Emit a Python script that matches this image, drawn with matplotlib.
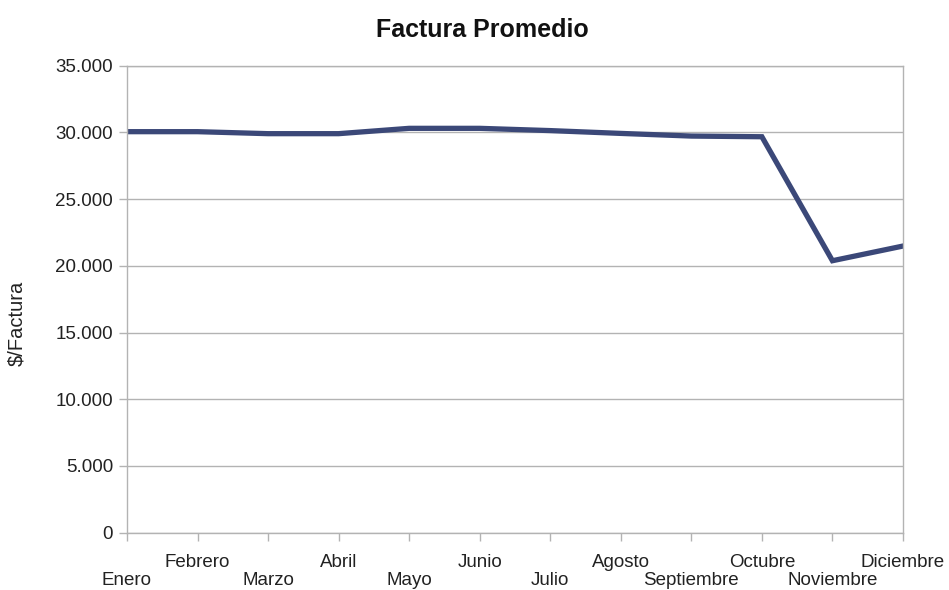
import matplotlib.pyplot as plt
from matplotlib.ticker import FuncFormatter

meses = ["Enero", "Febrero", "Marzo", "Abril", "Mayo", "Junio", "Julio",
         "Agosto", "Septiembre", "Octubre", "Noviembre", "Diciembre"]
factura = [30050, 30050, 29900, 29900, 30300, 30300, 30130,
           29920, 29720, 29670, 20380, 21480]
y_ticks = [0, 5000, 10000, 15000, 20000, 25000, 30000, 35000]

plt.rcParams["font.family"] = ["Liberation Sans", "DejaVu Sans"]
grey = "#b3b3b3"

fig = plt.figure(figsize=(9.49, 5.9), dpi=100)
ax = fig.add_axes([0.1338, 0.0971, 0.8177, 0.7917])

x = list(range(len(meses)))
ax.plot(x, factura, color="#3b4878", linewidth=3.8, solid_joinstyle="miter")

ax.set_xlim(0, len(meses) - 1)
ax.set_ylim(0, 35000)
ax.set_yticks(y_ticks)
ax.yaxis.set_major_formatter(FuncFormatter(lambda v, p: f"{int(v):,}".replace(",", ".")))

ax.set_xticks(x)
ax.set_xticklabels(meses)

ax.grid(axis="y", color=grey, linewidth=1)
ax.set_axisbelow(True)
for s in ax.spines.values():
    s.set_color(grey)
    s.set_linewidth(1)
ax.tick_params(axis="both", colors=grey, labelcolor="#222222", labelsize=13.5,
               length=6, width=1)
ax.tick_params(axis="y", pad=4)

# etiquetas escalonadas: pares abajo, impares arriba
for i, t in enumerate(ax.xaxis.get_major_ticks()):
    t.set_pad(22 if i % 2 == 0 else 9)

fig.text(17 / 949, 1 - 323 / 590, "$/Factura", rotation=90, fontsize=14.5,
         color="#222222", ha="center", va="center")
fig.text(482 / 949, 1 - 30 / 590, "Factura Promedio", fontsize=18,
         fontweight="bold", color="#111111", ha="center", va="center")

fig.savefig("out.png", dpi=100)
